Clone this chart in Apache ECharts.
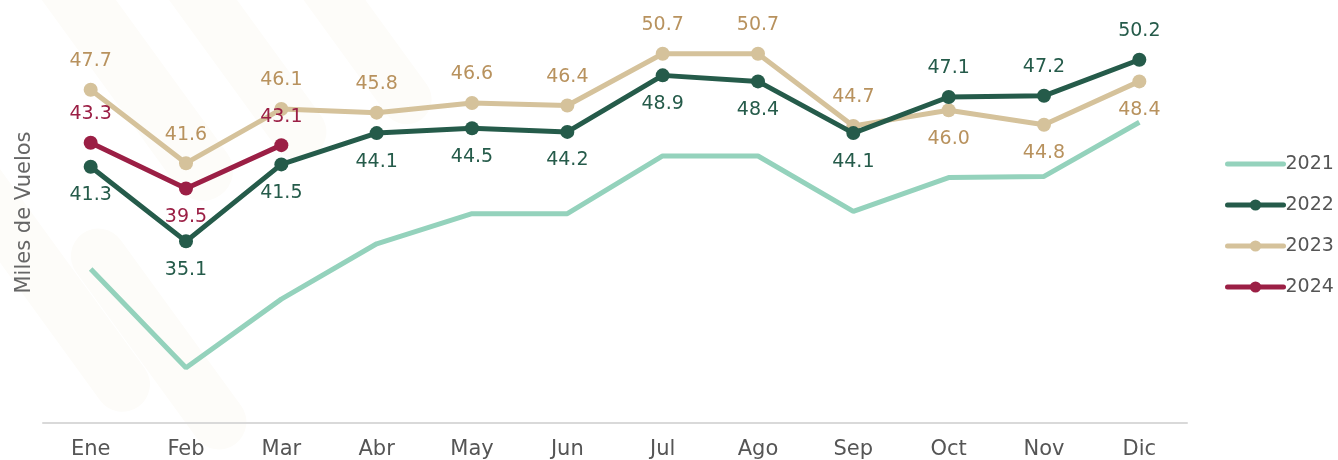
<!DOCTYPE html>
<html><head><meta charset="utf-8">
<script src="https://cdn.jsdelivr.net/npm/echarts@6/dist/echarts.min.js"></script>
<style>html,body{margin:0;padding:0;background:#fff}#c{width:1338px;height:460px}</style>
</head><body><div id="c"></div>
<script>
const months = ['Ene','Feb','Mar','Abr','May','Jun','Jul','Ago','Sep','Oct','Nov','Dic'];
const s2021 = [32.8,24.6,30.3,34.9,37.4,37.4,42.2,42.2,37.6,40.4,40.5,45.0];
const s2022 = [41.3,35.1,41.5,44.1,44.5,44.2,48.9,48.4,44.1,47.1,47.2,50.2];
const s2023 = [47.7,41.6,46.1,45.8,46.6,46.4,50.7,50.7,44.7,46.0,44.8,48.4];
const s2024 = [43.3,39.5,43.1];
const pos2022 = ['bottom','bottom','bottom','bottom','bottom','bottom','bottom','bottom','bottom','top','top','top'];
const pos2023 = ['top','top','top','top','top','top','top','top','top','bottom','bottom','bottom'];
const pos2024 = ['top','bottom','top'];

const FONT = 'DejaVu Sans';
function mk(vals, poss){
  return vals.map((v,i)=>({value:v,label:{position:poss[i]}}));
}
// very faint watermark stripes
const stripes = [];
[[20,-30,60,300],[140,-40,55,260],[260,-60,50,240],[60,250,55,260],[-60,180,55,300]].forEach(s=>{
  stripes.push({type:'rect',x:s[0],y:s[1],rotation:Math.PI/5,shape:{x:0,y:0,width:s[2],height:s[3],r:s[2]/2},
    style:{fill:'#fdfcf9'},z:-10,silent:true});
});
const chart = echarts.init(document.getElementById('c'));
chart.setOption({
  animation:false,
  textStyle:{fontFamily:FONT},
  graphic:stripes,
  grid:{left:43,right:151,top:2,bottom:37},
  legend:{orient:'vertical',left:1225,top:153,padding:0,itemWidth:56,itemHeight:14,itemGap:19,
    lineStyle:{width:5,cap:'round'},
    textStyle:{fontSize:19,color:'#555',fontFamily:FONT,padding:[0,0,0,-3],lineHeight:22},
    data:[{name:'2021',itemStyle:{opacity:0}},'2022','2023','2024']},
  xAxis:{type:'category',data:months,boundaryGap:true,
    axisLine:{lineStyle:{color:'#d9d9d9',width:2}},axisTick:{show:false},
    axisLabel:{fontSize:21,color:'#555',margin:16,fontFamily:FONT}},
  yAxis:{type:'value',min:20,max:55,show:true,splitLine:{show:false},axisLine:{show:false},
    axisLabel:{show:false},axisTick:{show:false},
    name:'Miles de Vuelos',nameLocation:'middle',nameGap:8,nameRotate:90,
    nameTextStyle:{fontSize:21,color:'#666',fontFamily:FONT}},
  series:[
    {name:'2021',type:'line',data:s2021,symbol:'none',lineStyle:{width:5,color:'#94d2bc'},itemStyle:{color:'#94d2bc'},z:1},
    {name:'2022',type:'line',data:mk(s2022,pos2022),symbol:'circle',symbolSize:14,lineStyle:{width:5,color:'#255b4a'},itemStyle:{color:'#255b4a'},
      label:{show:true,fontSize:19,color:'#255b4a',distance:12,formatter:p=>p.value.toFixed(1),fontFamily:FONT},z:3},
    {name:'2023',type:'line',data:mk(s2023,pos2023),symbol:'circle',symbolSize:14,lineStyle:{width:5,color:'#d5c29b'},itemStyle:{color:'#d5c29b'},
      label:{show:true,fontSize:19,color:'#b8925e',distance:12,formatter:p=>p.value.toFixed(1),fontFamily:FONT},z:2},
    {name:'2024',type:'line',data:mk(s2024,pos2024),symbol:'circle',symbolSize:14,lineStyle:{width:5,color:'#9b1f45'},itemStyle:{color:'#9b1f45'},
      label:{show:true,fontSize:19,color:'#9b1f45',distance:12,formatter:p=>p.value.toFixed(1),fontFamily:FONT},z:4}
  ]
});
</script></body></html>
